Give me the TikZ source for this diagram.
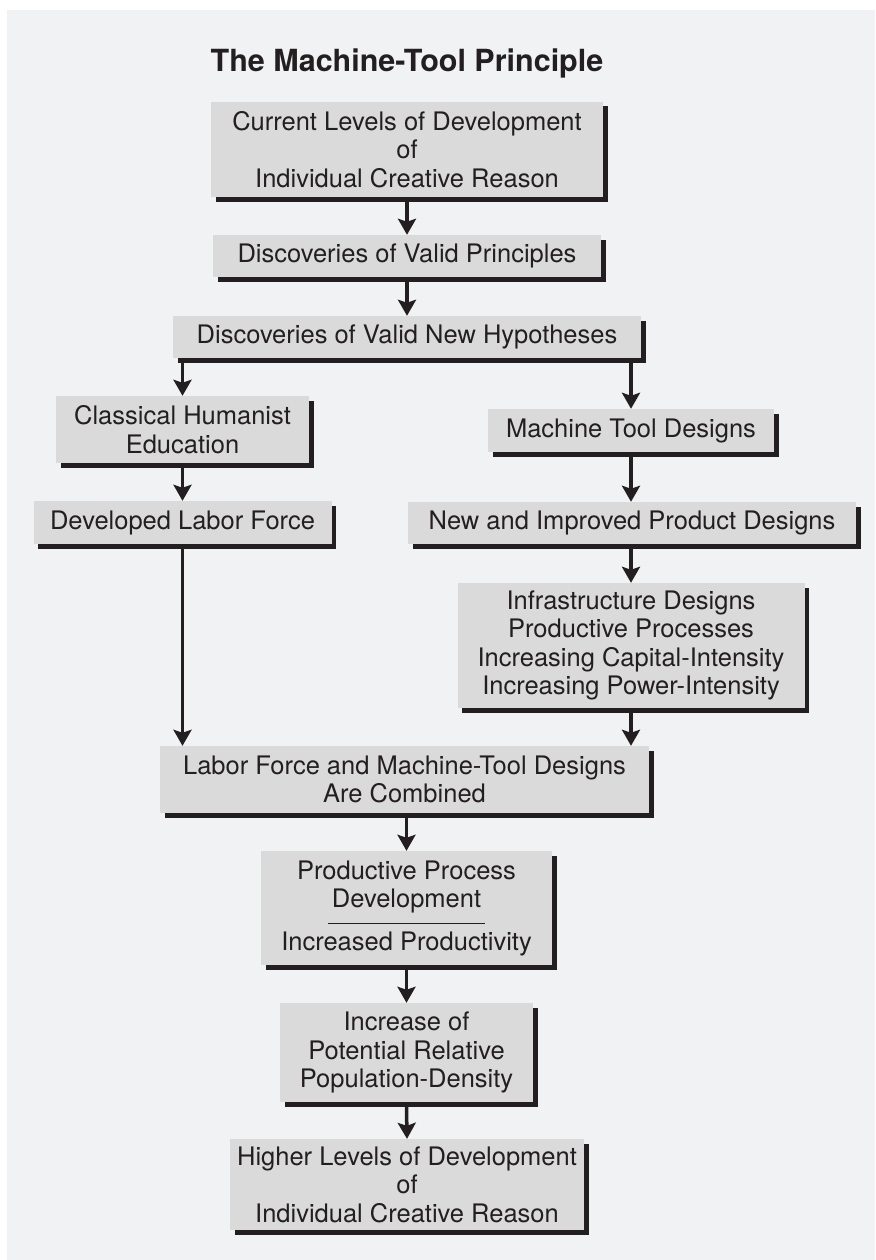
\documentclass[tikz,border=0pt]{standalone}
\usepackage{fontspec}
\setmainfont{TeX Gyre Heros}
\usetikzlibrary{arrows.meta,shadows}
\definecolor{panelc}{HTML}{F1F2F4}
\definecolor{boxc}{HTML}{DADADA}
\definecolor{inkc}{HTML}{231F20}
\tikzset{
  box/.style={fill=boxc, inner sep=0pt, align=center, text=inkc,
    font=\fontsize{25.5}{28.5}\selectfont,
    drop shadow={opacity=1, fill=inkc, shadow xshift=4.5pt, shadow yshift=-4.5pt}},
  arr/.style={line width=3.5pt, draw=inkc, -{Stealth[length=16pt,width=18pt,inset=3pt]}}
}
\begin{document}
\begin{tikzpicture}[x=1pt,y=-1pt]
\useasboundingbox (0,0) rectangle (875,1260);
\fill[white] (0,0) rectangle (875,1260);
\fill[panelc] (7,10) rectangle (875,1260);
\node[anchor=base, text=inkc, font=\fontsize{30.5}{34}\selectfont\bfseries] (title) at (407,72) {The Machine-Tool Principle};
\node[box, minimum width=392pt, minimum height=95pt] (b1) at (407,149.5) {Current Levels of Development\\of\\Individual Creative Reason};
\node[box, minimum width=388pt, minimum height=42pt] (b2) at (407,256) {Discoveries of Valid Principles};
\node[box, minimum width=468pt, minimum height=42pt] (b3) at (407,337) {Discoveries of Valid New Hypotheses};
\node[box, minimum width=253pt, minimum height=67pt] (cl) at (182.5,429.5) {Classical Humanist\\Education};
\node[box, minimum width=286pt, minimum height=43pt] (mt) at (631,430.5) {Machine Tool Designs};
\node[box, minimum width=298pt, minimum height=43pt] (dl) at (182.5,522.5) {Developed Labor Force};
\node[box, minimum width=448pt, minimum height=42pt] (ni) at (632,523) {New and Improved Product Designs};
\node[box, minimum width=347pt, minimum height=125pt] (inf) at (631,645.5) {Infrastructure Designs\\Productive Processes\\Increasing Capital-Intensity\\Increasing Power-Intensity};
\node[box, minimum width=489pt, minimum height=67pt] (lf) at (404.5,779.5) {Labor Force and Machine-Tool Designs\\Are Combined};
\node[box, minimum width=291pt, minimum height=114pt] (pp) at (406.5,908) {Productive Process\\Development\\[14pt]Increased Productivity};
\draw[inkc, line width=1pt] (328,923) -- (485,923);
\node[box, minimum width=253pt, minimum height=99pt] (inc) at (406.5,1052.5) {Increase of\\Potential Relative\\Population-Density};
\node[box, minimum width=354pt, minimum height=91pt] (hi) at (407,1184.5) {Higher Levels of Development\\of\\Individual Creative Reason};
\draw[arr] ([yshift=-4pt]b1.south) -- (b2.north);
\draw[arr] ([yshift=-4pt]b2.south) -- (b3.north);
\draw[arr] ([yshift=-4pt]b3.south -| cl.north) -- (cl.north);
\draw[arr] ([yshift=-4pt]b3.south -| mt.north) -- (mt.north);
\draw[arr] ([yshift=-4pt]cl.south) -- (dl.north);
\draw[arr] ([yshift=-4pt]dl.south) -- (lf.north -| dl.south);
\draw[arr] ([yshift=-4pt]mt.south) -- (ni.north -| mt.south);
\draw[arr] ([yshift=-4pt]ni.south -| inf.north) -- (inf.north);
\draw[arr] ([yshift=-4pt]inf.south) -- (lf.north -| inf.south);
\draw[arr] ([yshift=-4pt]lf.south -| pp.north) -- (pp.north);
\draw[arr] ([yshift=-4pt]pp.south) -- (inc.north);
\draw[arr] ([yshift=-4pt]inc.south) -- (hi.north);
\end{tikzpicture}
\end{document}
